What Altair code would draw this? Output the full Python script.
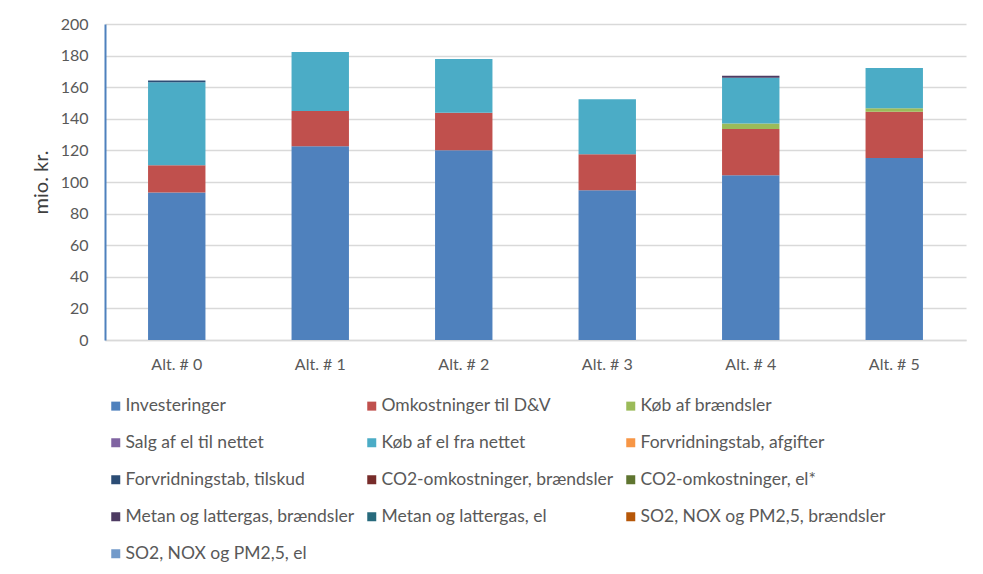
import altair as alt
import pandas as pd

alts = ["Alt. # 0", "Alt. # 1", "Alt. # 2", "Alt. # 3", "Alt. # 4", "Alt. # 5"]

series = [
    "Investeringer",
    "Omkostninger til D&V",
    "Køb af brændsler",
    "Salg af el til nettet",
    "Køb af el fra nettet",
    "Forvridningstab, afgifter",
    "Forvridningstab, tilskud",
    "CO2-omkostninger, brændsler",
    "CO2-omkostninger, el*",
    "Metan og lattergas, brændsler",
    "Metan og lattergas, el",
    "SO2, NOX og PM2,5, brændsler",
    "SO2, NOX og PM2,5, el",
]

colors = [
    "#4F81BD", "#C0504D", "#9BBB59", "#8064A2", "#4BACC6", "#F79646",
    "#2C4D75", "#772C2A", "#5F7530", "#4D3B62", "#276A7C", "#B65708",
    "#729ACA",
]

investeringer = [93.4, 122.6, 120.1, 94.7, 104.2, 115.2]
omkostninger_dv = [17.2, 22.4, 23.7, 22.8, 29.4, 29.2]
koeb_braendsler = [0, 0, 0, 0, 3.4, 2.3]
salg_el = [0, 0, 0, 0, 0, 0]
koeb_el = [52.6, 37.2, 34.0, 34.9, 29.0, 25.4]
forv_afgifter = [0, 0, 0, 0, 0, 0]
forv_tilskud = [1.1, 0, 0, 0, 0, 0]
co2_braendsler = [0, 0, 0, 0, 0, 0]
co2_el = [0, 0, 0, 0, 0, 0]
metan_braendsler = [0, 0, 0, 0, 1.2, 0]
metan_el = [0, 0, 0, 0, 0, 0]
so2_braendsler = [0, 0, 0, 0, 0, 0]
so2_el = [0, 0, 0, 0, 0, 0]

values = [
    investeringer, omkostninger_dv, koeb_braendsler, salg_el, koeb_el,
    forv_afgifter, forv_tilskud, co2_braendsler, co2_el, metan_braendsler,
    metan_el, so2_braendsler, so2_el,
]

rows = []
for si, (name, vals) in enumerate(zip(series, values)):
    for a, v in zip(alts, vals):
        if v > 0:
            rows.append({"alt": a, "series": name, "value": v, "idx": si})
df = pd.DataFrame(rows)

FONT = "Lato"
TXT = "#595959"

chart = alt.Chart(df).mark_bar().encode(
    x=alt.X(
        "alt:N",
        sort=alts,
        scale=alt.Scale(paddingInner=0.6, paddingOuter=0.3),
        axis=alt.Axis(
            title=None, labelAngle=0, ticks=False, labelPadding=16,
            labelFont=FONT, labelFontSize=16, labelColor=TXT,
            domainColor="#D9D9D9", domainWidth=1.5, grid=False,
        ),
    ),
    y=alt.Y(
        "value:Q",
        stack="zero",
        scale=alt.Scale(domain=[0, 200], nice=False),
        axis=alt.Axis(
            values=list(range(0, 201, 20)), title="mio. kr.", ticks=False,
            labelPadding=17, labelFont=FONT, labelFontSize=16, labelColor=TXT,
            titleFont=FONT, titleFontSize=20, titleFontWeight="normal",
            titleColor="#404040", titlePadding=9,
            domainColor="#4F81BD", domainWidth=2,
            gridColor="#D9D9D9", gridWidth=1.5,
        ),
    ),
    color=alt.Color(
        "series:N",
        scale=alt.Scale(domain=series, range=colors),
        legend=alt.Legend(
            title=None, orient="none", direction="horizontal",
            legendX=2, legendY=373, columns=3,
            symbolType="square", symbolSize=81, symbolStrokeWidth=0,
            labelFont=FONT, labelFontSize=17.5, labelColor=TXT,
            labelOffset=1, columnPadding=8, rowPadding=18, padding=0,
            labelLimit=400,
        ),
    ),
    order=alt.Order("idx:Q", sort="ascending"),
).properties(
    width=861,
    height=316,
    autosize=alt.AutoSizeParams(type="none"),
    padding={"left": 97, "top": 16, "right": 9, "bottom": 226},
    view=alt.ViewBackground(stroke="transparent", strokeWidth=0, strokeOpacity=0),
).configure(
    background="white",
)

chart.save("out.html", embed_options={"renderer": "svg", "actions": False})
